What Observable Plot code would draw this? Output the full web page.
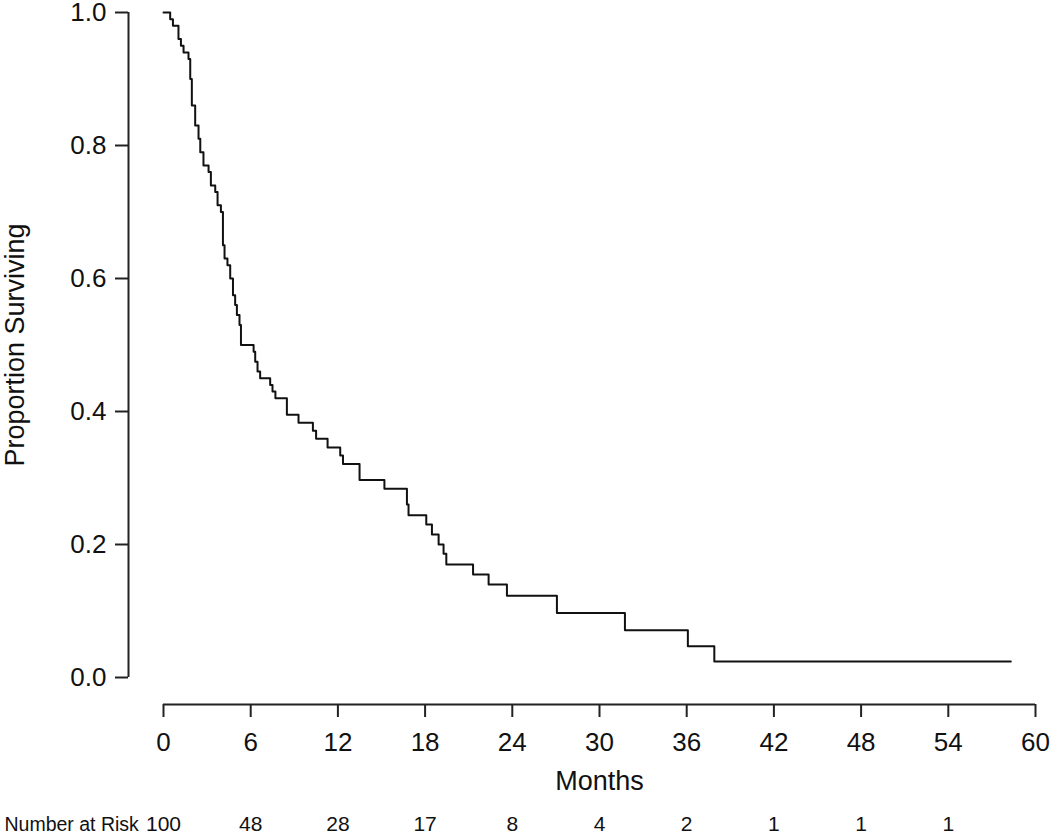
<!DOCTYPE html>
<html>
<head>
<meta charset="utf-8">
<script src="https://cdn.jsdelivr.net/npm/d3@7"></script>
<script src="https://cdn.jsdelivr.net/npm/@observablehq/plot@0.6"></script>
<style>
  body { margin: 0; background: #fff; }
</style>
</head>
<body>
<div id="chart"></div>
<script>
// Kaplan–Meier step points (months, proportion surviving)
const months = [0, 0.46, 0.65, 1.03, 1.2, 1.38, 1.72, 1.84, 1.95, 2.18, 2.41, 2.53, 2.75, 3.1, 3.26, 3.56, 3.72, 3.95, 4.09, 4.2, 4.4, 4.59, 4.78, 4.93, 5.05, 5.23, 5.33, 6.2, 6.31, 6.47, 6.65, 7.34, 7.5, 7.7, 8.49, 9.29, 10.28, 10.5, 11.29, 12.16, 12.35, 13.49, 15.2, 16.75, 16.86, 18.08, 18.47, 18.93, 19.27, 19.46, 21.3, 22.37, 23.63, 27.07, 31.75, 36.08, 37.9, 58.3];
const surviving = [1.0, 0.99, 0.98, 0.96, 0.95, 0.94, 0.93, 0.90, 0.86, 0.83, 0.81, 0.79, 0.77, 0.76, 0.74, 0.73, 0.71, 0.70, 0.65, 0.63, 0.62, 0.60, 0.575, 0.56, 0.545, 0.53, 0.50, 0.49, 0.475, 0.46, 0.45, 0.44, 0.43, 0.42, 0.395, 0.383, 0.371, 0.359, 0.346, 0.334, 0.321, 0.297, 0.284, 0.26, 0.244, 0.23, 0.215, 0.20, 0.186, 0.17, 0.155, 0.14, 0.123, 0.097, 0.071, 0.047, 0.024, 0.024];

const xTicks = [0, 6, 12, 18, 24, 30, 36, 42, 48, 54, 60];
const yTicks = [0, 0.2, 0.4, 0.6, 0.8, 1.0];
const riskTimes = [0, 6, 12, 18, 24, 30, 36, 42, 48, 54];
const riskCounts = [100, 48, 28, 17, 8, 4, 2, 1, 1, 1];

const curve = months.map((m, i) => ({month: m, surv: surviving[i]}));
const risk = riskTimes.map((t, i) => ({t, n: riskCounts[i]}));

const font = "'Liberation Sans', Arial, Helvetica, sans-serif";

const chart = Plot.plot({
  width: 1050,
  height: 839,
  marginLeft: 163,
  marginRight: 15,
  marginTop: 12,
  marginBottom: 162,
  style: {fontFamily: font, fontSize: "26px", color: "#111", background: "#fff"},
  x: {domain: [0, 60], axis: null},
  y: {domain: [0, 1], axis: null},
  marks: [
    // x axis (offset below plot, R style)
    Plot.ruleY([0], {x1: 0, x2: 60, dy: 27, stroke: "#222", strokeWidth: 2}),
    Plot.axisX(xTicks, {anchor: "bottom", dy: 27, tickSize: 13, tickPadding: 15, tickFormat: d => String(d), stroke: "#222", strokeWidth: 2, fontSize: 26, label: null}),
    Plot.text(["Months"], {x: 30, frameAnchor: "bottom", dy: 112, fontSize: 27, fill: "#111"}),
    // y axis (offset left)
    Plot.ruleX([0], {y1: 0, y2: 1, dx: -35, stroke: "#222", strokeWidth: 2}),
    Plot.axisY(yTicks, {anchor: "left", dx: -35, tickSize: 13, tickPadding: 9, tickFormat: d => d.toFixed(1), stroke: "#222", strokeWidth: 2, fontSize: 26, label: null}),
    Plot.text(["Proportion Surviving"], {frameAnchor: "left", textAnchor: "middle", dx: -148, rotate: -90, fontSize: 27, fill: "#111"}),
    // survival curve
    Plot.line(curve, {x: "month", y: "surv", curve: "step-after", stroke: "#111", strokeWidth: 2}),
    // number at risk row
    Plot.text(["Number at Risk"], {frameAnchor: "bottom-left", dx: -159, dy: 153, textAnchor: "start", fontSize: 19.5, fill: "#111"}),
    Plot.text(risk, {x: "t", text: d => String(d.n), frameAnchor: "bottom", dy: 153, fontSize: 21, fill: "#111"})
  ]
});

document.getElementById("chart").appendChild(chart);
</script>
</body>
</html>
